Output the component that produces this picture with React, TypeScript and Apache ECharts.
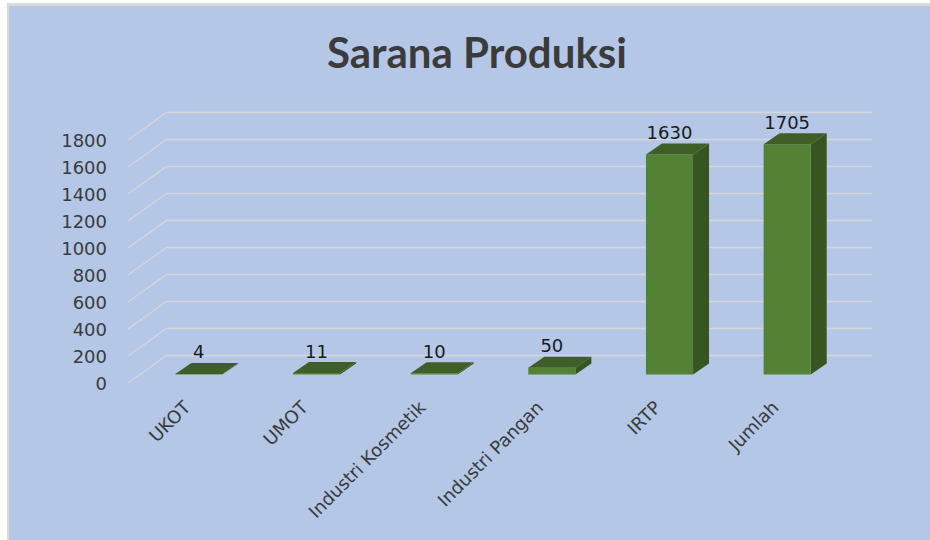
import React, { useEffect, useRef } from "react";
import * as echarts from "echarts";

const categories = ["UKOT", "UMOT", "Industri Kosmetik", "Industri Pangan", "IRTP", "Jumlah"];
const values = [4, 11, 10, 50, 1630, 1705];
const yTicks = [0, 200, 400, 600, 800, 1000, 1200, 1400, 1600, 1800];
const titleText = "Sarana Produksi";

const TITLE_FONT = "Lato, 'Open Sans', sans-serif";
const FONT = "'DejaVu Sans', 'Open Sans', sans-serif";

export default function App() {
  const ref = useRef<HTMLDivElement>(null);

  useEffect(() => {
    if (!ref.current) return;
    const chart = echarts.init(ref.current, undefined, { renderer: "svg" });

    // perspective offsets (pixels)
    const wallDx = 38.5, wallDy = -27.5; // front edge -> back wall
    const barDx = 12, barDy = -8.5;      // front edge -> bar front face
    const depDx = 16, depDy = -11;       // bar depth

    chart.setOption({
      animation: false,
      backgroundColor: "transparent",
      graphic: [
        {
          type: "text",
          x: 477,
          y: 52,
          style: {
            text: titleText,
            align: "center",
            verticalAlign: "middle",
            font: `bold 42px ${TITLE_FONT}`,
            fill: "#3b3b3b",
          },
        },
      ],
      grid: { left: 128, top: 140, width: 706, height: 243, containLabel: false },
      xAxis: {
        type: "category",
        data: categories,
        axisLine: { show: false },
        axisTick: { show: false },
        axisLabel: {
          rotate: 45,
          margin: 21,
          interval: 0,
          color: "#3b3b3b",
          fontFamily: FONT,
          fontSize: 18,
        },
      },
      yAxis: {
        type: "value",
        min: 0,
        max: 1800,
        interval: 200,
        axisLine: { show: false },
        axisTick: { show: false },
        splitLine: { show: false },
        axisLabel: {
          margin: 21,
          color: "#3b3b3b",
          fontFamily: FONT,
          fontSize: 18,
          formatter: (v: number) => String(v),
        },
      },
      series: [
        {
          type: "custom",
          z: 1,
          silent: true,
          data: yTicks.map((v) => [0, v]),
          renderItem: (params: any, api: any) => {
            const cs = params.coordSys;
            const y = api.coord([0, api.value(1)])[1];
            const x0 = cs.x;
            const x1 = cs.x + cs.width;
            return {
              type: "polyline",
              shape: {
                points: [
                  [x0, y],
                  [x0 + wallDx, y + wallDy],
                  [x1 + wallDx, y + wallDy],
                ],
              },
              style: { stroke: "#d6d6d6", lineWidth: 1.4, fill: "none" },
            };
          },
        },
        {
          type: "custom",
          z: 2,
          data: values.map((v, i) => [i, v]),
          renderItem: (params: any, api: any) => {
            const idx = api.value(0);
            const val = api.value(1);
            const base = api.coord([idx, 0]);
            const topP = api.coord([idx, val]);
            const bw = api.size([1, 0])[0] * 0.4;
            const cx = base[0] + barDx;
            const fb = base[1] + barDy;
            const ft = topP[1] + barDy;
            const x1 = cx - bw / 2;
            const x2 = cx + bw / 2;
            return {
              type: "group",
              children: [
                {
                  type: "polygon",
                  shape: {
                    points: [
                      [x2, ft],
                      [x2 + depDx, ft + depDy],
                      [x2 + depDx, fb + depDy],
                      [x2, fb],
                    ],
                  },
                  style: { fill: "#375521" },
                },
                {
                  type: "rect",
                  shape: { x: x1, y: ft, width: bw, height: Math.max(fb - ft, 0.5) },
                  style: { fill: "#548235" },
                },
                {
                  type: "polygon",
                  shape: {
                    points: [
                      [x1, ft],
                      [x1 + depDx, ft + depDy],
                      [x2 + depDx, ft + depDy],
                      [x2, ft],
                    ],
                  },
                  style: { fill: "#405f27" },
                },
                {
                  type: "text",
                  style: {
                    text: String(val),
                    x: cx,
                    y: ft - 22,
                    align: "center",
                    verticalAlign: "middle",
                    font: `18px ${FONT}`,
                    fill: "#1a1a1a",
                  },
                },
              ],
            };
          },
        },
      ],
    });

    return () => chart.dispose();
  }, []);

  return (
    <div style={{ position: "fixed", left: 0, top: 0, width: 930, height: 540, background: "#ffffff" }}>
      <div
        style={{
          position: "absolute",
          left: 7,
          top: 3,
          right: 0,
          bottom: 0,
          borderLeft: "2px solid #d9d9d9",
          borderTop: "3px solid #d9d9d9",
          background: "#b4c7e7",
        }}
      />
      <div ref={ref} style={{ position: "absolute", left: 0, top: 0, width: 930, height: 540 }} />
    </div>
  );
}
